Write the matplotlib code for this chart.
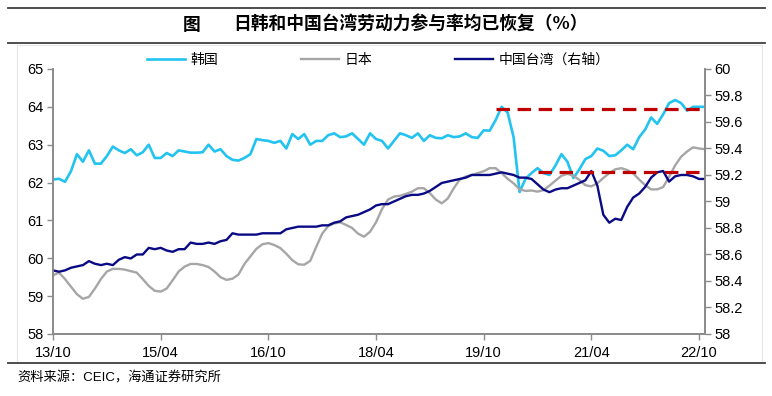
import numpy as np
import pandas as pd
import matplotlib
matplotlib.use("Agg")
import matplotlib.pyplot as plt
from matplotlib.lines import Line2D
from matplotlib.patches import Rectangle

plt.rcParams['font.family'] = ['Liberation Sans', 'Noto Sans CJK SC', 'DejaVu Sans']

# monthly, 2013/10 .. 2022/11
months = pd.period_range('2013-10', '2022-11', freq='M')

korea = [62.08, 62.10, 62.02, 62.30, 62.75, 62.55, 62.85, 62.50, 62.50, 62.70,
         62.95, 62.85, 62.78, 62.88, 62.72, 62.80, 63.00, 62.65, 62.65, 62.78,
         62.70, 62.85, 62.82, 62.79, 62.79, 62.80, 63.00, 62.82, 62.88, 62.70,
         62.60, 62.58, 62.65, 62.75, 63.15, 63.12, 63.10, 63.05, 63.10, 62.90,
         63.28, 63.15, 63.28, 63.00, 63.10, 63.10, 63.25, 63.30, 63.20, 63.22,
         63.30, 63.15, 63.00, 63.30, 63.15, 63.10, 62.90, 63.10, 63.30, 63.25,
         63.18, 63.30, 63.10, 63.25, 63.18, 63.17, 63.25, 63.20, 63.22, 63.30,
         63.20, 63.18, 63.38, 63.37, 63.65, 64.00, 63.85, 63.20, 61.75, 62.10,
         62.25, 62.38, 62.25, 62.20, 62.45, 62.75, 62.55, 62.12, 62.35, 62.62,
         62.70, 62.90, 62.84, 62.70, 62.72, 62.85, 63.00, 62.88, 63.20, 63.40,
         63.72, 63.55, 63.80, 64.10, 64.18, 64.10, 63.90, 64.00, 64.00, 64.00]

japan = [59.55, 59.62, 59.45, 59.25, 59.05, 58.93, 58.98, 59.20, 59.45, 59.65,
         59.72, 59.72, 59.70, 59.66, 59.62, 59.45, 59.27, 59.14, 59.12, 59.20,
         59.42, 59.65, 59.78, 59.85, 59.85, 59.82, 59.77, 59.65, 59.50, 59.43,
         59.46, 59.57, 59.85, 60.05, 60.25, 60.37, 60.40, 60.35, 60.27, 60.12,
         59.95, 59.84, 59.83, 59.93, 60.30, 60.65, 60.85, 60.92, 60.95, 60.88,
         60.80, 60.65, 60.57, 60.70, 60.95, 61.30, 61.55, 61.63, 61.65, 61.70,
         61.76, 61.85, 61.85, 61.72, 61.55, 61.45, 61.58, 61.85, 62.08, 62.16,
         62.20, 62.25, 62.30, 62.38, 62.38, 62.25, 62.10, 61.98, 61.82, 61.78,
         61.79, 61.76, 61.80, 61.92, 62.05, 62.18, 62.23, 62.18, 62.07, 61.93,
         61.90, 61.98, 62.12, 62.25, 62.35, 62.38, 62.33, 62.24, 62.08, 61.93,
         61.82, 61.82, 61.88, 62.15, 62.45, 62.68, 62.82, 62.93, 62.90, 62.88]

taiwan = [58.48, 58.47, 58.48, 58.50, 58.51, 58.52, 58.55, 58.53, 58.52, 58.53,
          58.52, 58.56, 58.58, 58.57, 58.60, 58.60, 58.65, 58.64, 58.65, 58.63,
          58.62, 58.64, 58.64, 58.69, 58.68, 58.68, 58.69, 58.68, 58.70, 58.71,
          58.76, 58.75, 58.75, 58.75, 58.75, 58.76, 58.76, 58.76, 58.76, 58.79,
          58.80, 58.81, 58.81, 58.81, 58.81, 58.82, 58.82, 58.84, 58.85, 58.88,
          58.89, 58.90, 58.92, 58.94, 58.97, 58.98, 58.98, 59.00, 59.02, 59.04,
          59.05, 59.05, 59.06, 59.08, 59.11, 59.14, 59.15, 59.16, 59.17, 59.18,
          59.20, 59.20, 59.20, 59.20, 59.21, 59.22, 59.21, 59.20, 59.18, 59.18,
          59.17, 59.13, 59.09, 59.07, 59.09, 59.10, 59.10, 59.12, 59.14, 59.16,
          59.23, 59.12, 58.90, 58.84, 58.87, 58.86, 58.96, 59.03, 59.06, 59.11,
          59.18, 59.22, 59.23, 59.15, 59.19, 59.20, 59.20, 59.19, 59.17, 59.17]

# reference levels (right axis) and the month they start from
ref_high, ref_high_start = 59.70, '2019-12'
ref_low, ref_low_start = 59.22, '2020-07'

x = np.arange(len(months))
tick_idx = x[::18]
tick_lab = [months[i].strftime('%y/%m') for i in tick_idx]

fig = plt.figure(figsize=(7.72, 3.96), dpi=100)
ax = fig.add_axes([0.0687, 0.1566, 0.8445, 0.6692])
ax2 = ax.twinx()

c_kr, c_jp, c_tw, c_red = '#22C3F0', '#A6A6A6', '#0A0A85', '#C00000'
l1, = ax.plot(x, korea, color=c_kr, lw=1.9, label='韩国')
l2, = ax.plot(x, japan, color=c_jp, lw=1.7, label='日本')
l3, = ax2.plot(x, taiwan, color=c_tw, lw=1.7, label='中国台湾（右轴）')

x_end = len(months) - 1
for lev, start in [(ref_high, ref_high_start), (ref_low, ref_low_start)]:
    i0 = months.get_loc(pd.Period(start, freq='M'))
    ax2.plot([i0, x_end], [lev, lev], color=c_red, lw=2.3, dashes=(4.2, 2.4))

ax.set_xlim(0, x_end)
ax.set_ylim(58, 65)
ax.set_yticks(range(58, 66))
ax2.set_ylim(58, 60)
ax2.set_yticks(np.arange(58, 60.01, 0.2))
ax2.set_yticklabels(['%g' % round(v, 1) for v in np.arange(58, 60.01, 0.2)])
ax.set_xticks(tick_idx)
ax.set_xticklabels(tick_lab)

for a in (ax, ax2):
    a.spines['top'].set_visible(False)
    for s in ('left', 'right', 'bottom'):
        a.spines[s].set_color('#8C8C8C')
        a.spines[s].set_linewidth(1.3)
    a.tick_params(direction='out', length=4, width=1, color='#8C8C8C',
                  labelsize=10.5, pad=3)
ax.tick_params(axis='x', pad=5)

fig.legend(handles=[l1, l2, l3], loc='center', bbox_to_anchor=(0.49, 1 - 60 / 396),
           ncol=3, frameon=False, fontsize=10, handlelength=2.7,
           handletextpad=0.4, columnspacing=6.0)

# header / footer decorations
fig.add_artist(Line2D([8 / 772, 765 / 772], [1 - 8 / 396] * 2, color='#404040', lw=1.3))
fig.add_artist(Line2D([8 / 772, 765 / 772], [1 - 43 / 396] * 2, color='#404040', lw=1.3))
fig.add_artist(Line2D([8 / 772, 765 / 772], [1 - 363 / 396] * 2, color='#404040', lw=1.3))
fig.add_artist(Rectangle((17 / 772, 1 - 363 / 396), 745 / 772, 318 / 396,
                         fill=False, ec='#E6E6E6', lw=0.8))
fig.text(192 / 772, 1 - 25 / 396, '图', ha='center', va='center',
         fontsize=12.8, fontweight='bold', family=['Noto Sans CJK SC'])
fig.text(233 / 772, 1 - 25 / 396, '日韩和中国台湾劳动力参与率均已恢复（%）',
         ha='left', va='center', fontsize=12.8, fontweight='bold',
         family=['Noto Sans CJK SC', 'DejaVu Sans'])
fig.text(17 / 772, 1 - 378 / 396, '资料来源：CEIC，海通证券研究所', ha='left',
         va='center', fontsize=9.5, family=['Liberation Sans', 'Noto Sans CJK SC'])

fig.savefig('out.png', dpi=100, facecolor='white')
